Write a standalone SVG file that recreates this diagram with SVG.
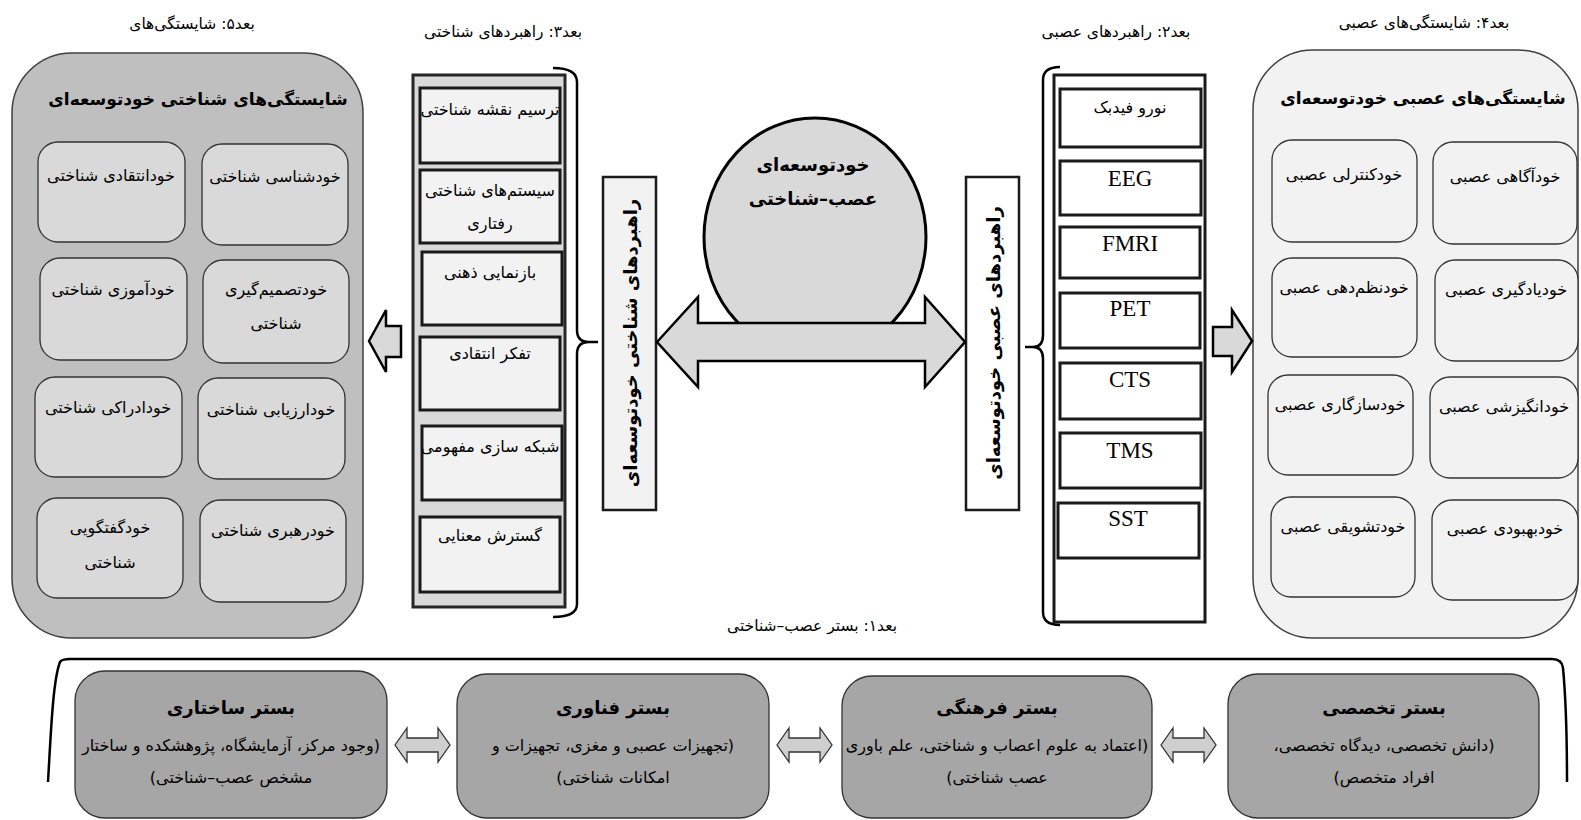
<svg xmlns="http://www.w3.org/2000/svg" width="1581" height="820" viewBox="0 0 1581 820">
<style>
text{font-family:"DejaVu Sans","Noto Sans",sans-serif;fill:#000;direction:rtl}
.lat{font-family:"Liberation Serif",serif;font-size:23px;direction:ltr}
.t{font-size:16px;text-anchor:middle}
.lbl{font-size:15.5px;text-anchor:middle}
.b{font-weight:bold}
.panelL{fill:#bfbfbf;stroke:#404040;stroke-width:1.5}
.panelR{fill:#f2f2f2;stroke:#404040;stroke-width:1.5}
.boxL{fill:#d9d9d9;stroke:#333;stroke-width:1.3}
.boxR{fill:#f2f2f2;stroke:#333;stroke-width:1.3}
.col3{fill:#d9d9d9;stroke:#262626;stroke-width:3}
.in3{fill:#f2f2f2;stroke:#1a1a1a;stroke-width:3}
.col2{fill:#fff;stroke:#1a1a1a;stroke-width:3}
.base{fill:#a6a6a6;stroke:#333;stroke-width:1.3}
.arr{fill:#d9d9d9;stroke:#000;stroke-width:2.5;stroke-linejoin:miter}
.sarr{fill:#cfcfcf;stroke:#333;stroke-width:1.3}
.br{fill:none;stroke:#000;stroke-width:2.5}
.ttl{font-size:17px}
</style>

<g id="dim5-label"><text class="lbl" x="192" y="29">بعد۵: شایستگی‌های</text></g>
<g id="dim3-label"><text class="lbl" x="503" y="37">بعد۳: راهبردهای شناختی</text></g>
<g id="dim2-label"><text class="lbl" x="1116" y="37">بعد۲: راهبردهای عصبی</text></g>
<g id="dim4-label"><text class="lbl" x="1424" y="28">بعد۴: شایستگی‌های عصبی</text></g>
<g id="dim1-label"><text class="lbl" x="812" y="631">بعد۱: بستر عصب–شناختی</text></g>

<g id="cognitive-competencies">
<rect class="panelL" x="12" y="53" width="351" height="585" rx="60" ry="60"/>
<text class="t b ttl" x="198" y="105">شایستگی‌های شناختی خودتوسعه‌ای</text>
<rect class="boxL" x="38" y="142" width="147" height="100" rx="20"/>
<text class="t" x="111" y="181">خودانتقادی شناختی</text>
<rect class="boxL" x="202" y="144" width="146" height="101" rx="20"/>
<text class="t" x="275" y="182">خودشناسی شناختی</text>
<rect class="boxL" x="40" y="258" width="147" height="102" rx="20"/>
<text class="t" x="113" y="295">خودآموزی شناختی</text>
<rect class="boxL" x="203" y="260" width="146" height="103" rx="20"/>
<text class="t" x="276" y="295">خودتصمیم‌گیری</text>
<text class="t" x="276" y="329">شناختی</text>
<rect class="boxL" x="35" y="377" width="147" height="100" rx="20"/>
<text class="t" x="108" y="413">خودادراکی شناختی</text>
<rect class="boxL" x="198" y="378" width="147" height="101" rx="20"/>
<text class="t" x="271" y="415">خودارزیابی شناختی</text>
<rect class="boxL" x="37" y="498" width="146" height="100" rx="20"/>
<text class="t" x="110" y="533">خودگفتگویی</text>
<text class="t" x="110" y="568">شناختی</text>
<rect class="boxL" x="200" y="500" width="146" height="102" rx="20"/>
<text class="t" x="273" y="536">خودرهبری شناختی</text>
</g>

<g id="cognitive-strategies">
<rect class="col3" x="413" y="75" width="152" height="532"/>
<rect class="in3" x="420" y="88" width="140" height="75"/>
<text class="t" x="490" y="115">ترسیم نقشه شناختی</text>
<rect class="in3" x="420" y="170" width="140" height="73"/>
<text class="t" x="490" y="196">سیستم‌های شناختی</text>
<text class="t" x="490" y="229">رفتاری</text>
<rect class="in3" x="422" y="252" width="140" height="73"/>
<text class="t" x="490" y="278">بازنمایی ذهنی</text>
<rect class="in3" x="420" y="337" width="140" height="73"/>
<text class="t" x="490" y="359">تفکر انتقادی</text>
<rect class="in3" x="422" y="426" width="140" height="74"/>
<text class="t" x="490" y="452">شبکه سازی مفهومی</text>
<rect class="in3" x="420" y="517" width="140" height="75"/>
<text class="t" x="490" y="541">گسترش معنایی</text>
</g>

<g id="cognitive-strategy-label">
<rect x="603" y="177" width="53" height="333" fill="#f2f2f2" stroke="#1a1a1a" stroke-width="2.5"/>
<text class="t b" transform="translate(629.5,343) rotate(-90)" x="0" y="7" style="font-size:18px">راهبردهای شناختی خودتوسعه‌ای</text>
</g>

<g id="core">
<ellipse cx="815" cy="237" rx="111" ry="119" fill="#d9d9d9" stroke="#000" stroke-width="3"/>
<text class="t b" x="813" y="171" style="font-size:18px">خودتوسعه‌ای</text>
<text class="t b" x="813" y="205" style="font-size:18px">عصب–شناختی</text>
</g>

<g id="neural-strategy-label">
<rect x="966" y="177" width="53" height="333" fill="#fff" stroke="#1a1a1a" stroke-width="2.5"/>
<text class="t b" transform="translate(992.5,343) rotate(-90)" x="0" y="7" style="font-size:18px">راهبردهای عصبی خودتوسعه‌ای</text>
</g>

<g id="neural-strategies">
<rect class="col2" x="1054" y="75" width="151" height="547"/>
<rect class="col2" x="1060" y="89" width="141" height="58"/>
<text class="t" x="1130" y="113">نورو فیدبک</text>
<rect class="col2" x="1060" y="161" width="141" height="54"/>
<text class="lat" x="1130" y="186" text-anchor="middle">EEG</text>
<rect class="col2" x="1060" y="227" width="140" height="51"/>
<text class="lat" x="1130" y="251" text-anchor="middle">FMRI</text>
<rect class="col2" x="1060" y="293" width="140" height="55"/>
<text class="lat" x="1130" y="316" text-anchor="middle">PET</text>
<rect class="col2" x="1060" y="363" width="141" height="56"/>
<text class="lat" x="1130" y="387" text-anchor="middle">CTS</text>
<rect class="col2" x="1060" y="433" width="141" height="55"/>
<text class="lat" x="1130" y="458" text-anchor="middle">TMS</text>
<rect class="col2" x="1058" y="503" width="141" height="55"/>
<text class="lat" x="1128" y="526" text-anchor="middle">SST</text>
</g>

<g id="neural-competencies">
<rect class="panelR" x="1253" y="50" width="325" height="588" rx="60" ry="60"/>
<text class="t b ttl" x="1423" y="104">شایستگی‌های عصبی خودتوسعه‌ای</text>
<rect class="boxR" x="1272" y="140" width="145" height="102" rx="20"/>
<text class="t" x="1344" y="180">خودکنترلی عصبی</text>
<rect class="boxR" x="1433" y="142" width="144" height="102" rx="20"/>
<text class="t" x="1505" y="182">خودآگاهی عصبی</text>
<rect class="boxR" x="1272" y="258" width="145" height="99" rx="20"/>
<text class="t" x="1344" y="293">خودنظم‌دهی عصبی</text>
<rect class="boxR" x="1435" y="260" width="143" height="101" rx="20"/>
<text class="t" x="1506" y="295">خودیادگیری عصبی</text>
<rect class="boxR" x="1268" y="375" width="145" height="100" rx="20"/>
<text class="t" x="1340" y="410">خودسازگاری عصبی</text>
<rect class="boxR" x="1430" y="377" width="148" height="101" rx="20"/>
<text class="t" x="1504" y="412">خودانگیزشی عصبی</text>
<rect class="boxR" x="1271" y="497" width="144" height="100" rx="20"/>
<text class="t" x="1343" y="532">خودتشویقی عصبی</text>
<rect class="boxR" x="1432" y="500" width="146" height="100" rx="20"/>
<text class="t" x="1505" y="534">خودبهبودی عصبی</text>
</g>

<g id="bases">
<g id="base-structural">
<rect class="base" x="75" y="671" width="312" height="147" rx="30"/>
<text class="t b" x="231" y="714" style="font-size:18px">بستر ساختاری</text>
<text class="t" x="231" y="751">(وجود مرکز، آزمایشگاه، پژوهشکده و ساختار</text>
<text class="t" x="231" y="783">مشخص عصب–شناختی)</text>
</g>
<g id="base-technology">
<rect class="base" x="457" y="674" width="312" height="144" rx="30"/>
<text class="t b" x="613" y="714" style="font-size:18px">بستر فناوری</text>
<text class="t" x="613" y="751">(تجهیزات عصبی و مغزی، تجهیزات و</text>
<text class="t" x="613" y="783">امکانات شناختی)</text>
</g>
<g id="base-cultural">
<rect class="base" x="842" y="676" width="310" height="142" rx="30"/>
<text class="t b" x="997" y="714" style="font-size:18px">بستر فرهنگی</text>
<text class="t" x="997" y="751">(اعتماد به علوم اعصاب و شناختی، علم باوری</text>
<text class="t" x="997" y="783">عصب شناختی)</text>
</g>
<g id="base-expert">
<rect class="base" x="1228" y="674" width="311" height="144" rx="30"/>
<text class="t b" x="1384" y="714" style="font-size:18px">بستر تخصصی</text>
<text class="t" x="1384" y="751">(دانش تخصصی، دیدگاه تخصصی،</text>
<text class="t" x="1384" y="783">افراد متخصص)</text>
</g>
</g>

<g id="connectors">
<path class="br" d="M553 68 Q577 68 577 82 L577 330 Q577 342 589 342 L598 342 M589 342 Q577 342 577 354 L577 604 Q577 617 553 617"/>
<path class="br" d="M1060 67 Q1043 67 1043 80 L1043 335 Q1043 347 1033 347 L1025 347 M1033 347 Q1043 347 1043 359 L1043 612 Q1043 625 1060 625"/>
<polygon class="arr" points="369,341 386,310 386,326 401,326 401,357 386,357 386,372" stroke-width="2"/>
<polygon class="arr" points="1252,341 1232,310 1232,327 1213,327 1213,356 1232,356 1232,372" stroke-width="2"/>
<polygon class="arr" points="657,342 698,297 698,323 925,323 925,297 965,342 925,387 925,361 698,361 698,387"/>
<path class="br" d="M48 782 C51 730 53 680 60 662 Q62 659 70 659 L1552 659 Q1562 659 1563 668 C1566 700 1567 740 1567 782"/>
<polygon class="sarr" points="395,745 407,728 407,738 438,738 438,728 450,745 438,762 438,752 407,752 407,762"/>
<polygon class="sarr" points="777,745 789,728 789,738 820,738 820,728 832,745 820,762 820,752 789,752 789,762"/>
<polygon class="sarr" points="1161,745 1173,728 1173,738 1204,738 1204,728 1216,745 1204,762 1204,752 1173,752 1173,762"/>
</g>
</svg>
